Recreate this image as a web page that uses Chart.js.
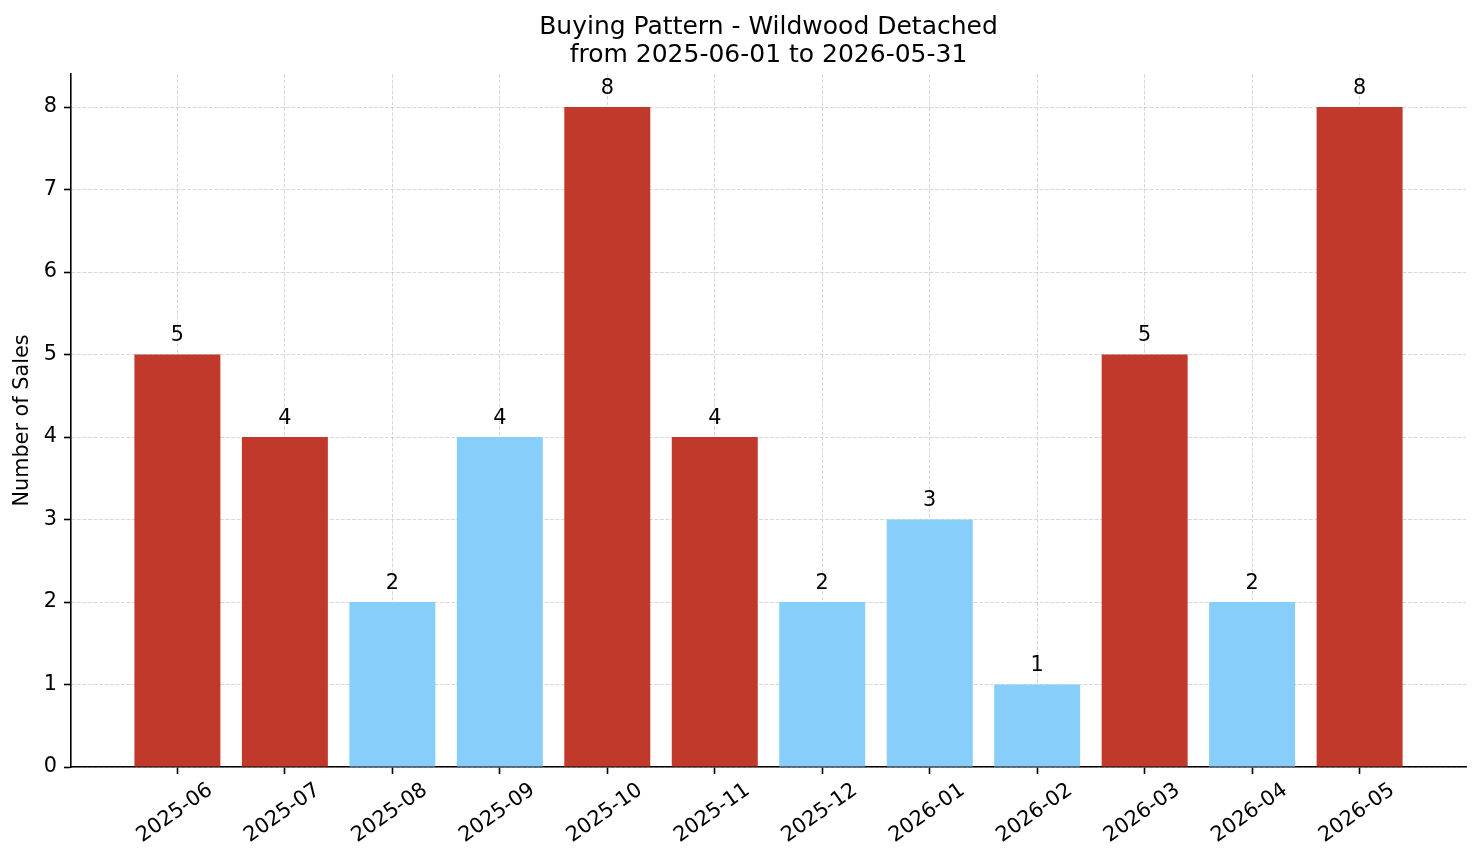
<!DOCTYPE html>
<html>
<head>
<meta charset="utf-8">
<script src="https://cdn.jsdelivr.net/npm/chart.js@4.4.1/dist/chart.umd.min.js"></script>
<style>
    html, body { margin: 0; padding: 0; background: #fff; }
    #wrap { width: 1481px; height: 863px; }
</style>
</head>
<body>
<div id="wrap"><canvas id="chart" width="1481" height="863"></canvas></div>
<script>
// values
const months = ["2025-06", "2025-07", "2025-08", "2025-09", "2025-10", "2025-11",
    "2025-12", "2026-01", "2026-02", "2026-03", "2026-04", "2026-05"];
const sales = [5, 4, 2, 4, 8, 4, 2, 3, 1, 5, 2, 8];
const highlighted = [true, true, false, false, true, true, false, false, false, true, false, true];
const yTicks = [0, 1, 2, 3, 4, 5, 6, 7, 8];

const RED = "#c0392b";
const BLUE = "#87cefa";
const FONT = "'DejaVu Sans', sans-serif";

Chart.defaults.color = "#000";
Chart.defaults.font.family = FONT;

const gridStyle = {
    color: "rgba(176, 176, 176, 0.5)",
    lineWidth: 1,
    offset: false,
    drawTicks: true,
    tickLength: 7,
    tickColor: "#000",
    tickWidth: 1.6,
    tickBorderDash: [],
};
// in v4 the grid dash lives on the border options
const borderStyle = { display: true, color: "#000", width: 1.6, dash: [3.8, 1.7] };

// value labels above each bar
const barLabels = {
    id: "barLabels",
    afterDraw(chart) {
        const ctx = chart.ctx;
        const y = chart.scales.y;
        const meta = chart.getDatasetMeta(0);
        ctx.save();
        ctx.font = "20.8px " + FONT;
        ctx.fillStyle = "#000";
        ctx.textAlign = "center";
        ctx.textBaseline = "bottom";
        meta.data.forEach((bar, i) => {
            ctx.fillText(String(sales[i]), bar.x, y.getPixelForValue(sales[i] + 0.1));
        });
        ctx.restore();
    },
};

new Chart(document.getElementById("chart"), {
    type: "bar",
    data: {
        datasets: [{
            data: sales.map((v, i) => ({ x: i, y: v })),
            backgroundColor: highlighted.map((h) => (h ? RED : BLUE)),
            borderWidth: 0,
            barPercentage: 0.8,
            categoryPercentage: 1.0,
        }],
    },
    options: {
        responsive: false,
        devicePixelRatio: 1,
        animation: false,
        layout: { padding: { left: 0, right: 15, top: 0, bottom: 0 } },
        plugins: {
            legend: { display: false },
            tooltip: { enabled: false },
            title: {
                display: true,
                fullSize: false,
                text: ["Buying Pattern - Wildwood Detached", "from 2025-06-01 to 2026-05-31"],
                font: { size: 25, weight: "normal", lineHeight: 1.12 },
                color: "#000",
                padding: { top: 13, bottom: 5 },
            },
        },
        scales: {
            x: {
                type: "linear",
                offset: false,
                min: -0.99,
                max: 11.99,
                z: 1,
                grid: gridStyle,
                border: borderStyle,
                afterBuildTicks: (scale) => {
                    scale.ticks = months.map((m, i) => ({ value: i }));
                },
                afterFit: (scale) => { scale.height = 96; },
                ticks: {
                    autoSkip: false,
                    minRotation: 35,
                    maxRotation: 35,
                    labelOffset: 33,
                    padding: 4,
                    font: { size: 20.8 },
                    callback: (v) => months[v],
                },
            },
            y: {
                min: 0,
                max: 8.4,
                z: 1,
                grid: gridStyle,
                border: borderStyle,
                afterBuildTicks: (scale) => {
                    scale.ticks = yTicks.map((t) => ({ value: t }));
                },
                afterFit: (scale) => { scale.width = 71; },
                ticks: {
                    padding: 7,
                    font: { size: 20.8 },
                },
                title: {
                    display: true,
                    text: "Number of Sales",
                    font: { size: 20.8 },
                    padding: { top: 10, bottom: 0 },
                },
            },
        },
    },
    plugins: [barLabels],
});
</script>
</body>
</html>
